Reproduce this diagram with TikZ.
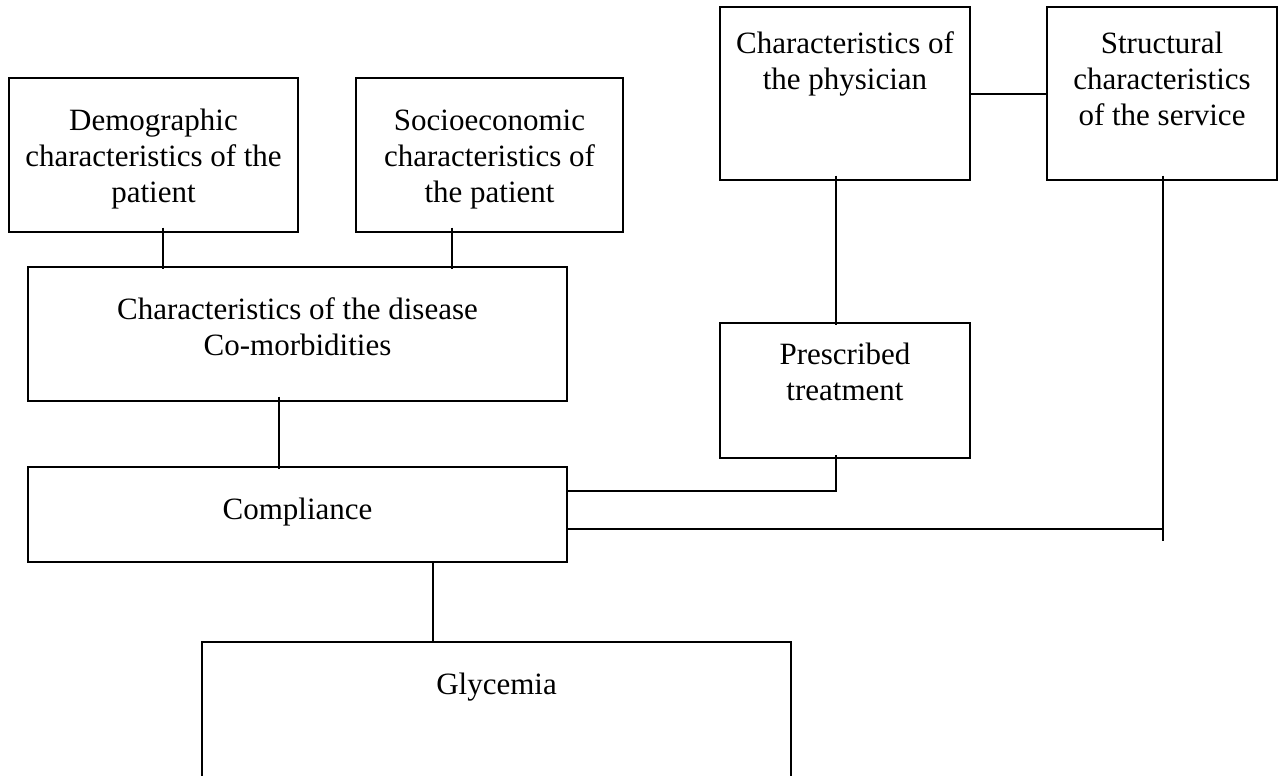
\documentclass[tikz,border=0pt]{standalone}
\usepackage{fontspec}
\setmainfont{Liberation Serif}
\usetikzlibrary{fit}
\begin{document}
\begin{tikzpicture}[x=0.75pt, y=-0.75pt,
  box/.style={draw, line width=1.6pt, inner sep=0pt, fit={#1}},
  txt/.style={anchor=base, align=center, inner sep=0pt,
              font=\fontsize{23.25pt}{27pt}\selectfont},
  link/.style={draw, line width=1.1pt},
  dip/.style={shorten <=-4pt, shorten >=-2pt}]
\useasboundingbox (0,0) rectangle (1281,775);
\clip (0,0) rectangle (1281,775);

% boxes
\node[box={(9,78) (298,232)}]     (demo)   {};
\node[box={(356,78) (623,232)}]   (socio)  {};
\node[box={(28,267) (567,401)}]   (dis)    {};
\node[box={(28,467) (567,562)}]   (comp)   {};
\node[box={(202,642) (791,820)}]  (gly)    {};
\node[box={(720,7) (970,180)}]    (phys)   {};
\node[box={(1047,7) (1277,180)}]  (struct) {};
\node[box={(720,323) (970,458)}]  (presc)  {};

% labels (placed on the baseline of their last line)
\node[txt] (demot)   at (153.5,202) {Demographic\\characteristics of the\\patient};
\node[txt] (sociot)  at (489.5,202) {Socioeconomic\\characteristics of\\the patient};
\node[txt] (dist)    at (297.5,355) {Characteristics of the disease\\Co-morbidities};
\node[txt] (compt)   at (297.5,519) {Compliance};
\node[txt] (glyt)    at (496.5,694) {Glycemia};
\node[txt] (physt)   at (845,89)    {Characteristics of\\the physician};
\node[txt] (structt) at (1162,125)  {Structural\\characteristics\\of the service};
\node[txt] (presct)  at (845,400)   {Prescribed\\treatment};

% connector columns and rows
\coordinate (xa) at (163,0);
\coordinate (xb) at (452,0);
\coordinate (xc) at (279,0);
\coordinate (xd) at (433,0);
\coordinate (xe) at (836,0);
\coordinate (xf) at (1163,0);
\coordinate (ya) at (0,94);
\coordinate (yb) at (0,491);
\coordinate (yc) at (0,529);
\coordinate (tail) at (1163,541);

% connectors
\draw[link, dip] (demo.south -| xa)  -- (dis.north -| xa);
\draw[link, dip] (socio.south -| xb) -- (dis.north -| xb);
\draw[link, dip] (dis.south -| xc)   -- (comp.north -| xc);
\draw[link]      (comp.south -| xd)  -- (gly.north -| xd);
\draw[link]      (phys.east |- ya)   -- (struct.west |- ya);
\draw[link, dip] (phys.south -| xe)  -- (presc.north -| xe);
\draw[link, shorten <=-3pt] (presc.south -| xe) -- (xe |- yb) -- (comp.east |- yb);
\draw[link, shorten <=-4pt] (struct.south -| xf) -- (tail);
\draw[link]      (comp.east |- yc)   -- (xf |- yc);
\end{tikzpicture}
\end{document}
